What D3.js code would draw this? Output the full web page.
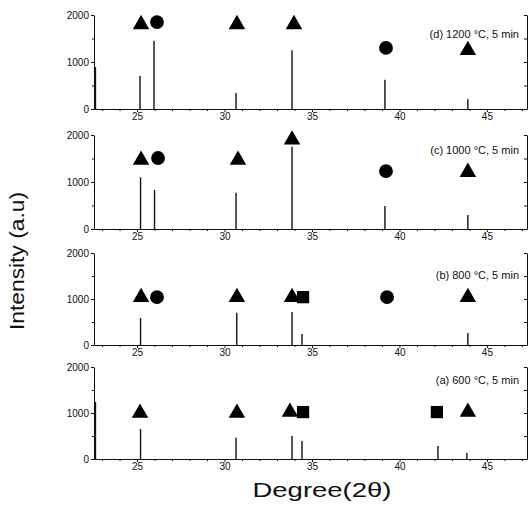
<!DOCTYPE html>
<html>
<head>
<meta charset="utf-8">
<script src="https://cdn.jsdelivr.net/npm/d3@7"></script>
<style>
  body { margin: 0; background: #fff; }
  svg { display: block; font-family: Arial, "Liberation Sans", sans-serif; }
  .tick text { font-size: 10px; fill: #111; }
  .domain, .tick line { stroke: #111; stroke-width: 1; }
</style>
</head>
<body>
<svg id="chart" width="529" height="509"></svg>
<script>
//-------------------------------
// Data: peaks are [2theta, intensity]
var panelNames = ['d', 'c', 'b', 'a'];
var panelLabels = ['(d) 1200 \u00B0C, 5 min', '(c) 1000 \u00B0C, 5 min', '(b) 800 \u00B0C, 5 min', '(a) 600 \u00B0C, 5 min'];

var peaksD = [[22.6, 890], [25.17, 700], [25.97, 1450], [30.66, 340], [33.86, 1250], [39.17, 620], [43.91, 210]];
var peaksC = [[25.2, 1100], [26.0, 830], [30.66, 770], [33.86, 1750], [39.17, 490], [43.91, 300]];
var peaksB = [[25.2, 590], [30.7, 700], [33.86, 720], [34.43, 240], [43.91, 260]];
var peaksA = [[22.6, 1240], [25.2, 650], [30.66, 460], [33.86, 500], [34.43, 390], [42.2, 280], [43.85, 130]];

// phase markers: [2theta, level, type]
var markersD = [[25.23, 1800, 'tri'], [26.14, 1850, 'circ'], [30.71, 1800, 'tri'], [33.97, 1800, 'tri'], [39.23, 1300, 'circ'], [43.91, 1250, 'tri']];
var markersC = [[25.23, 1470, 'tri'], [26.2, 1510, 'circ'], [30.77, 1470, 'tri'], [33.86, 1900, 'tri'], [39.23, 1230, 'circ'], [43.91, 1210, 'tri']];
var markersB = [[25.23, 1040, 'tri'], [26.14, 1040, 'circ'], [30.71, 1040, 'tri'], [33.86, 1040, 'tri'], [34.49, 1040, 'sq'], [39.29, 1040, 'circ'], [43.91, 1040, 'tri']];
var markersA = [[25.17, 1000, 'tri'], [30.71, 1000, 'tri'], [33.74, 1020, 'tri'], [34.49, 1020, 'sq'], [42.14, 1020, 'sq'], [43.91, 1020, 'tri']];

var xTicks = [25, 30, 35, 40, 45];
var yTicks = [0, 1000, 2000];

var allPeaks = [peaksD, peaksC, peaksB, peaksA];
var allMarkers = [markersD, markersC, markersB, markersA];

//-------------------------------
// Layout
var svg = d3.select('#chart');
var left = 94, right = 527;
var panelBase = [109, 229, 345, 459];   // pixel row of 0
var panelTop = [15, 135, 253, 367];     // pixel row of 2000
var labelLevel = [1600, 1680, 1520, 1720];

var x = d3.scaleLinear().domain([22.54, 47.29]).range([left, right]);

var symbols = {
  tri: d3.symbol().type(d3.symbolTriangle).size(118),
  circ: d3.symbol().type(d3.symbolCircle).size(150),
  sq: d3.symbol().type(d3.symbolSquare).size(150)
};

panelNames.forEach(function(name, i) {
  var y = d3.scaleLinear().domain([0, 2000]).range([panelBase[i], panelTop[i]]);
  var g = svg.append('g').attr('class', 'panel-' + name);

  // left axis
  g.append('g')
    .attr('transform', 'translate(' + left + ',0)')
    .call(d3.axisLeft(y).tickValues(yTicks).tickSize(3).tickSizeOuter(0).tickPadding(2).tickFormat(d3.format('d')));
  g.append('g')
    .attr('transform', 'translate(' + left + ',0)')
    .call(d3.axisLeft(y).tickValues([500, 1500]).tickSize(2).tickSizeOuter(0).tickFormat(''))
    .select('.domain').remove();

  // right axis, ticks inward
  g.append('g')
    .attr('transform', 'translate(' + right + ',0)')
    .call(d3.axisLeft(y).tickValues([500, 1000, 1500, 2000]).tickSize(3).tickSizeOuter(0).tickFormat(''));

  // bottom axis
  g.append('g')
    .attr('transform', 'translate(0,' + panelBase[i] + ')')
    .call(d3.axisBottom(x).tickValues(xTicks).tickSize(3).tickSizeOuter(0).tickPadding(1));
  g.append('g')
    .attr('transform', 'translate(0,' + panelBase[i] + ')')
    .call(d3.axisBottom(x).tickValues(d3.range(23, 48).filter(function(d) { return d % 5 !== 0; })).tickSize(2).tickFormat(''))
    .select('.domain').remove();

  // peaks
  g.selectAll('line.peak')
    .data(allPeaks[i])
    .enter().append('line')
    .attr('class', 'peak')
    .attr('x1', function(d) { return x(d[0]); })
    .attr('x2', function(d) { return x(d[0]); })
    .attr('y1', y(0))
    .attr('y2', function(d) { return y(d[1]); })
    .attr('stroke', '#111')
    .attr('stroke-width', function(d) { return d[0] < 23 ? 2.2 : 1.4; });

  // phase markers
  g.selectAll('path.marker')
    .data(allMarkers[i])
    .enter().append('path')
    .attr('class', 'marker')
    .attr('d', function(d) { return symbols[d[2]](); })
    .attr('transform', function(d) { return 'translate(' + x(d[0]) + ',' + y(d[1]) + ')'; })
    .attr('fill', '#000');

  // panel label
  g.append('text')
    .attr('x', 519)
    .attr('y', y(labelLevel[i]) + 4)
    .attr('text-anchor', 'end')
    .style('font-size', '11px')
    .attr('fill', '#111')
    .text(panelLabels[i]);
});

// axis titles
svg.append('text')
  .attr('transform', 'translate(24,261) rotate(-90)')
  .attr('text-anchor', 'middle')
  .attr('textLength', 138)
  .attr('lengthAdjust', 'spacingAndGlyphs')
  .style('font-size', '20px')
  .attr('fill', '#111')
  .text('Intensity (a.u)');

svg.append('text')
  .attr('x', 322)
  .attr('y', 497)
  .attr('text-anchor', 'middle')
  .attr('textLength', 139)
  .attr('lengthAdjust', 'spacingAndGlyphs')
  .style('font-size', '21px')
  .attr('fill', '#111')
  .text('Degree(2\u03B8)');
</script>
</body>
</html>
